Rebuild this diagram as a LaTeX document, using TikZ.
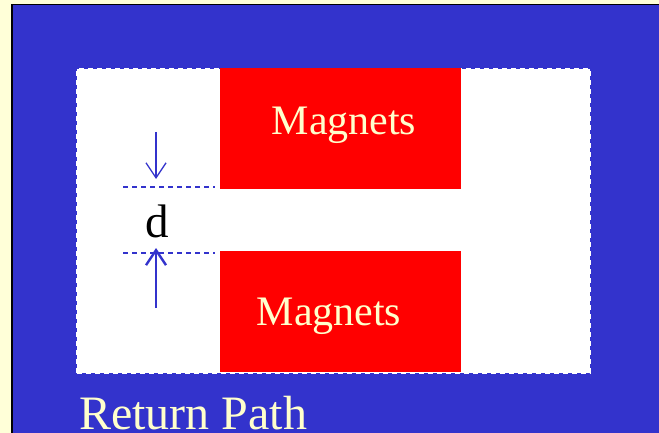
\documentclass[tikz,border=0pt]{standalone}
\usepackage{fontspec}
\setmainfont{Liberation Serif}
\usetikzlibrary{arrows.meta}
\definecolor{bg}{HTML}{3333CC}
\definecolor{cream}{HTML}{FFFFCC}
\definecolor{pale}{HTML}{FFFFD8}
\definecolor{magred}{HTML}{FF0000}
\tikzset{
  magnet/.style={fill=magred, draw=none, inner sep=0pt, anchor=north west, minimum width=241pt, minimum height=121pt},
  magtext/.style={text=cream, inner sep=0pt, anchor=base, font=\fontsize{42}{42}\selectfont},
  guide/.style={draw=bg, line width=1.5pt, dash pattern=on 5pt off 4pt},
  dimarrow/.style={draw=bg, -{Straight Barb[length=15pt,width=20pt]}},
}
\begin{document}
\begin{tikzpicture}[x=1pt,y=-1pt]
\fill[pale] (0,0) rectangle (659,433);
\useasboundingbox (0,0) rectangle (659,433);
\fill[bg] (12,4.5) rectangle (665,440);
\draw[black, line width=1.5pt] (12,440) -- (12,4.5) -- (665,4.5);
\node[fill=white, draw=white, dash pattern=on 5pt off 4pt, line width=2pt, inner sep=0pt, anchor=north west, minimum width=513pt, minimum height=304pt] (frame) at (76,68) {};
\node[magnet] (magtop) at (220,68) {};
\node[magnet] (magbot) at (220,251) {};
\node[magtext] (toptext) at (344,135) {Magnets};
\node[magtext] (bottext) at (329,325) {Magnets};
\coordinate (g1a) at (123,187);
\coordinate (g1b) at (215,187);
\coordinate (g2a) at (123,253);
\coordinate (g2b) at (215,253);
\draw[guide] (g1a) -- (g1b);
\draw[guide] (g2a) -- (g2b);
\node[inner sep=0pt, anchor=base, font=\fontsize{47}{47}\selectfont] (d) at (157,237) {d};
\coordinate (a1s) at (156,132);
\coordinate (a1e) at (156,179);
\coordinate (a2s) at (156,308);
\coordinate (a2e) at (156,248);
\draw[dimarrow, line width=1.3pt] (a1s) -- (a1e);
\draw[dimarrow, line width=2.4pt] (a2s) -- (a2e);
\node[text=cream, inner sep=0pt, anchor=base west, font=\fontsize{48}{48}\selectfont] (ret) at (79,429) {Return Path};
\end{tikzpicture}
\end{document}
